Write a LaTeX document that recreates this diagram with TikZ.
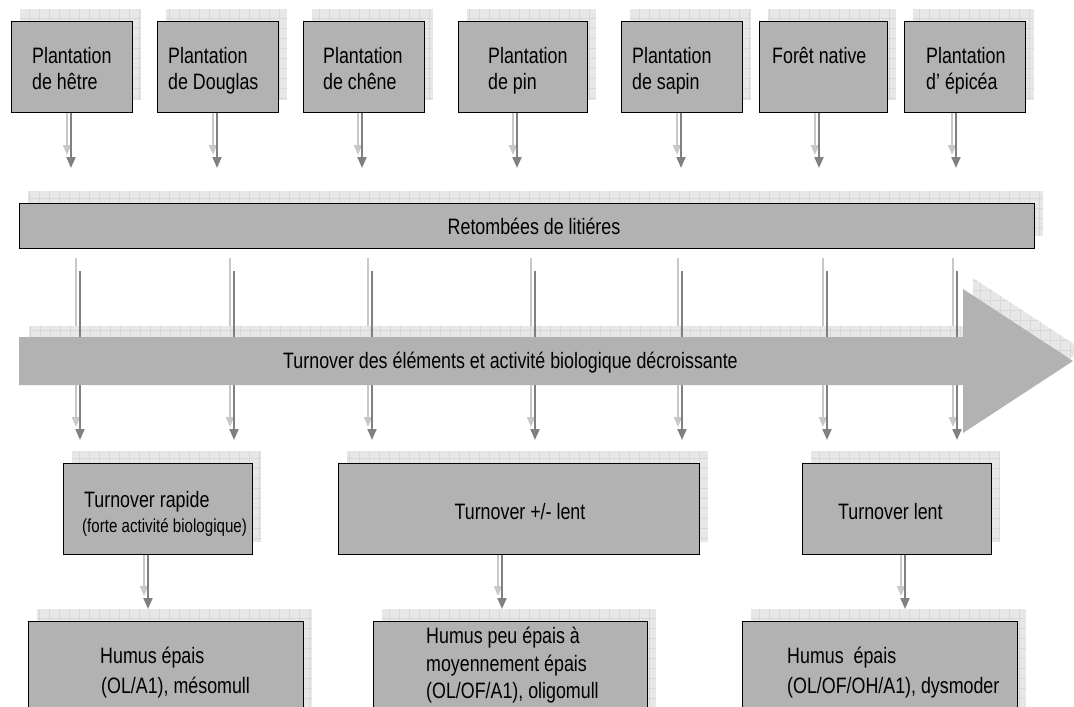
\documentclass[tikz,border=0pt]{standalone}
\usepackage{fontspec}
\setmainfont{Liberation Sans}[FakeStretch=0.8]
\usetikzlibrary{arrows.meta}
\definecolor{boxfill}{HTML}{B2B2B2}
\definecolor{shfill}{HTML}{E7E7E7}
\definecolor{shline}{HTML}{D8D8D8}
\definecolor{darkarr}{HTML}{808080}
\definecolor{lightarr}{HTML}{C8C8C8}
\newcommand\bigfont{\fontsize{22.3}{26}\selectfont}
\newcommand\smallfont{\fontsize{18.9}{22}\selectfont}
\tikzset{
  boxst/.style={draw=black, line width=1pt, fill=boxfill, inner sep=0pt, rectangle},
  shadowst/.style={fill=shfill},
  gridst/.style={draw=shline, line width=0.5pt},
  lbl/.style={inner sep=0pt, anchor=base west, font=\bigfont},
  lblc/.style={inner sep=0pt, anchor=base, font=\bigfont},
  slbl/.style={inner sep=0pt, anchor=base west, font=\smallfont},
  darkarrow/.style={draw=darkarr, line width=2pt, -{Triangle[width=9pt,length=11pt]}},
  lightarrow/.style={draw=lightarr, line width=2pt, -{Triangle[width=8pt,length=10pt]}},
}
% name, x1, y1, x2, y2 (pixel coordinates, y downwards)
\newcommand\shadowedbox[5]{%
  \begin{scope}[shift={(9,-12)}]
    \begin{scope}
      \clip (#2,#3) rectangle (#4,#5);
      \fill[shadowst] (#2,#3) rectangle (#4,#5);
      \draw[gridst] (#2,#5) grid[step=10pt] (#4,#3);
    \end{scope}
  \end{scope}
  \node[boxst, minimum width={(#4-#2)*1pt}, minimum height={(#5-#3)*1pt}] (#1) at ({(#2+#4)/2},{(#3+#5)/2}) {};
}
\begin{document}
\begin{tikzpicture}[x=1pt,y=-1pt]
\clip (0,0) rectangle (1074,707);
\fill[white] (0,0) rectangle (1074,707);

% ---------- top row ----------
\shadowedbox{b1}{11}{21}{132}{112}
\shadowedbox{b2}{157}{21}{278}{112}
\shadowedbox{b3}{303}{21}{424}{112}
\shadowedbox{b4}{458}{21}{587}{112}
\shadowedbox{b5}{621}{21}{742}{112}
\shadowedbox{b6}{759}{21}{887}{112}
\shadowedbox{b7}{904}{21}{1025}{112}

\node[lbl] (b1a) at (32,63) {Plantation};
\node[lbl] (b1b) at (32,89) {de hêtre};
\node[lbl] (b2a) at (168,63) {Plantation};
\node[lbl] (b2b) at (168,89) {de Douglas};
\node[lbl] (b3a) at (323,63) {Plantation};
\node[lbl] (b3b) at (323,89) {de chêne};
\node[lbl] (b4a) at (488,63) {Plantation};
\node[lbl] (b4b) at (488,89) {de pin};
\node[lbl] (b5a) at (632,63) {Plantation};
\node[lbl] (b5b) at (632,89) {de sapin};
\node[lbl] (b6a) at (772,63) {Forêt native};
\node[lbl] (b7a) at (926,63) {Plantation};
\node[lbl] (b7b) at (926,89) {d’ épicéa};

% arrows from the top boxes
\foreach \i/\x in {1/71,2/217,3/362,4/517,5/681,6/819,7/956} {
  \coordinate (t\i) at (\x,168);
  \draw[lightarrow] ([xshift=-4pt]b\i.south -| t\i) -- ([xshift=-4pt,yshift=13pt]t\i);
  \draw[darkarrow] (b\i.south -| t\i) -- (t\i);
}

% ---------- litter box ----------
\shadowedbox{ret}{19}{203}{1034}{248}
\node[lblc] (retl) at (534,234) {Retombées de litiéres};

% ---------- arrows crossing the big arrow ----------
\foreach \i/\x in {1/80,2/234,3/372,4/535,5/682,6/827,7/957} {
  \coordinate (ms\i) at (\x,271);
  \coordinate (me\i) at (\x,440);
  \draw[lightarrow] ([xshift=-4pt,yshift=13pt]ms\i) -- ([xshift=-4pt,yshift=13pt]me\i);
}

% big arrow shadow
\begin{scope}
  \clip (29,326) -- (973,326) -- (973,278) -- (1083,350) -- (973,422) -- (973,374) -- (29,374) -- cycle;
  \fill[shadowst] (0,250) rectangle (1100,450);
  \draw[gridst] (0,450) grid[step=10pt] (1100,250);
\end{scope}

\foreach \i in {1,...,7} {
  \draw[darkarrow] (ms\i) -- (me\i);
}

% big arrow body
\fill[boxfill] (19,337) -- (963,337) -- (963,289) -- (1073,361) -- (963,433) -- (963,385) -- (19,385) -- cycle;
\node[lblc] (flow) at (510.5,368) {Turnover des éléments et activité biologique décroissante};

% ---------- turnover row ----------
\shadowedbox{r1}{63}{463}{252}{554}
\shadowedbox{r2}{338}{463}{699}{554}
\shadowedbox{r3}{802}{463}{991}{554}

\node[lbl] (r1a) at (84,507) {Turnover rapide};
\node[slbl] (r1b) at (82,532) {(forte activité biologique)};
\node[lblc] (r2a) at (520,519) {Turnover +/- lent};
\node[lbl] (r3a) at (838,519) {Turnover lent};

% ---------- humus row ----------
\shadowedbox{h1}{28}{621}{303}{720}
\shadowedbox{h2}{373}{621}{647}{720}
\shadowedbox{h3}{742}{621}{1017}{720}

\foreach \i/\x in {1/148,2/502,3/905} {
  \coordinate (u\i) at (\x,609);
  \draw[lightarrow] ([xshift=-4pt]r\i.south -| u\i) -- ([xshift=-4pt,yshift=13pt]u\i);
  \draw[darkarrow] (r\i.south -| u\i) -- (u\i);
}

\node[lbl] (h1a) at (100,663) {Humus épais};
\node[lbl] (h1b) at (101,693) {(OL/A1), mésomull};
\node[lbl] (h2a) at (426,643) {Humus peu épais à};
\node[lbl] (h2b) at (426,671) {moyennement épais};
\node[lbl] (h2c) at (426,698) {(OL/OF/A1), oligomull};
\node[lbl] (h3a) at (787,663) {Humus\ \ épais};
\node[lbl] (h3b) at (787,693) {(OL/OF/OH/A1), dysmoder};
\end{tikzpicture}
\end{document}
